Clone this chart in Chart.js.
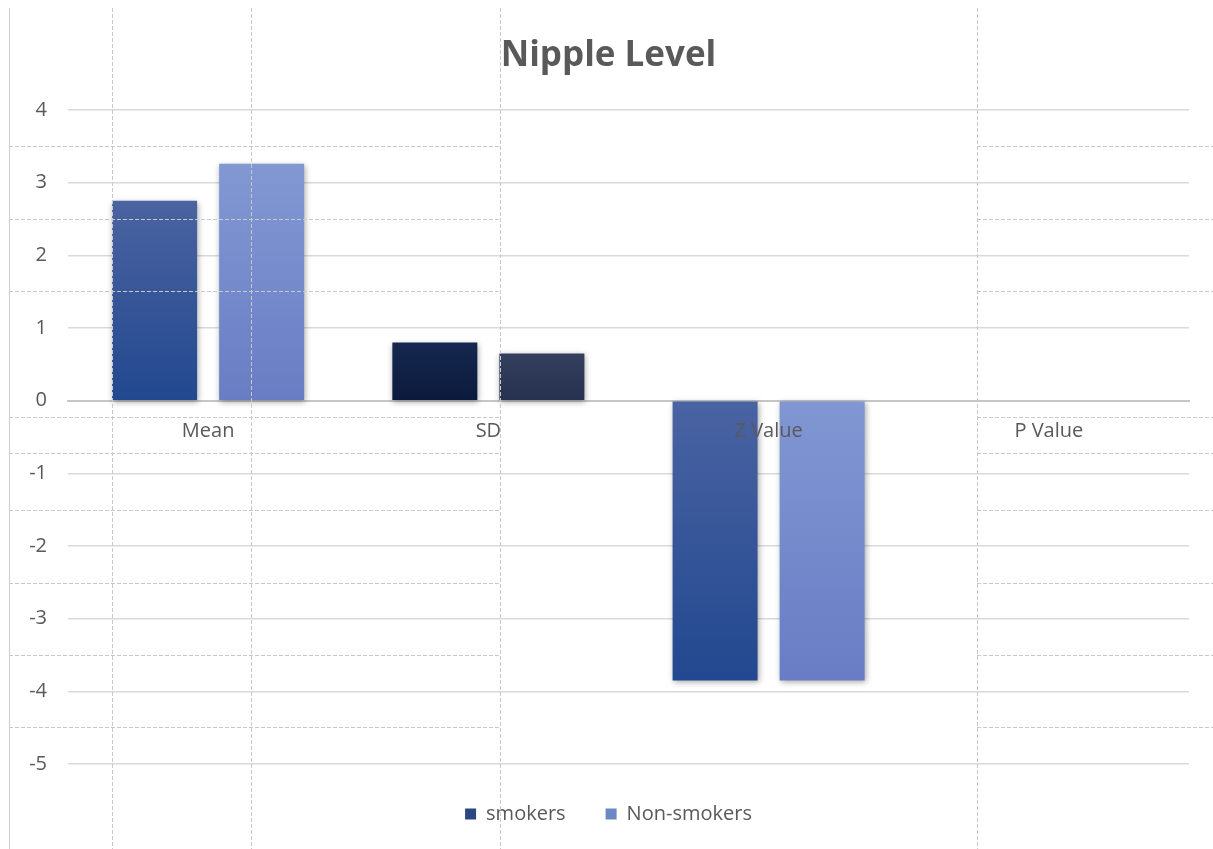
<!DOCTYPE html>
<html>
<head>
<meta charset="utf-8">
<title>Nipple Level</title>
<script src="https://cdn.jsdelivr.net/npm/chart.js@4/dist/chart.umd.min.js"></script>
<style>
  html, body { margin: 0; padding: 0; background: #fff; }
  #wrap { position: relative; width: 1213px; height: 849px; overflow: hidden; }
  #grafik { position: absolute; left: 0; top: 0; }
  #tabel { position: absolute; left: 0; top: 0; width: 1213px; height: 849px; pointer-events: none; }
  .garis-v { position: absolute; width: 1px; top: 8px; bottom: 0;
    background: repeating-linear-gradient(to bottom, #c9c9c9 0 4px, transparent 4px 6px); }
  .garis-h { position: absolute; height: 1px;
    background: repeating-linear-gradient(to right, #c9c9c9 0 4px, transparent 4px 6px); }
  .tepi { position: absolute; left: 9px; top: 8px; bottom: 0; width: 1px; background: #cfcfcf; }
</style>
</head>
<body>
<div id="wrap">
  <canvas id="grafik" width="1213" height="849"></canvas>
  <div id="tabel"><div class="tepi"></div></div>
</div>
<script>
// data grafik
const kategori = ["Mean", "SD", "Z Value", "P Value"];
const perokok = [2.75, 0.8, -3.85, 0];
const bukanPerokok = [3.26, 0.65, -3.85, 0];
const sumbuMin = -5;
const sumbuMax = 4;

// warna gradasi tiap batang: [atas, bawah]
const warnaPerokok = [
  ["#4b63a1", "#22488f"],
  ["#16284f", "#0b1a3b"],
  ["#4a63a2", "#22488f"],
  ["#4a63a2", "#22488f"],
];
const warnaBukanPerokok = [
  ["#8298d3", "#697dc4"],
  ["#34405f", "#26314e"],
  ["#8197d3", "#687dc4"],
  ["#8197d3", "#687dc4"],
];
const warnaLegenda = ["#2a4783", "#6b88c3"];

// garis tabel dokumen di atas grafik
const tabel = document.getElementById("tabel");
[112, 251, 500, 977].forEach((x) => {
  const d = document.createElement("div");
  d.className = "garis-v";
  d.style.left = x + "px";
  tabel.appendChild(d);
});
[146, 219, 291, 417, 453, 510, 583, 655, 727].forEach((y) => {
  [[9, 500], [977, 1213]].forEach(([a, b]) => {
    const d = document.createElement("div");
    d.className = "garis-h";
    d.style.top = y + "px";
    d.style.left = a + "px";
    d.style.width = b - a + "px";
    tabel.appendChild(d);
  });
});

function isiGradasi(warna) {
  return (context) => {
    const { chart } = context;
    const { ctx, chartArea, scales } = chart;
    if (!chartArea || !scales.y || context.type !== "data") return warna[0][1];
    const [atas, bawah] = warna[context.dataIndex];
    const yNilai = scales.y.getPixelForValue(context.raw);
    const yNol = scales.y.getPixelForValue(0);
    const g = ctx.createLinearGradient(0, Math.min(yNilai, yNol), 0, Math.max(yNilai, yNol) + 1);
    g.addColorStop(0, atas);
    g.addColorStop(1, bawah);
    return g;
  };
}

// bayangan lembut di sekitar batang
const bayanganBatang = {
  id: "bayanganBatang",
  beforeDatasetsDraw(chart) {
    const c = chart.ctx;
    c.save();
    c.shadowColor = "rgba(0, 0, 0, 0.35)";
    c.shadowBlur = 6;
    c.shadowOffsetX = 1;
    c.shadowOffsetY = 2;
  },
  afterDatasetsDraw(chart) {
    chart.ctx.restore();
  },
};

Chart.defaults.font.family = "'Open Sans', sans-serif";
Chart.defaults.color = "#595959";

const ctx = document.getElementById("grafik").getContext("2d");
new Chart(ctx, {
  type: "bar",
  data: {
    labels: kategori,
    datasets: [
      {
        label: "smokers",
        data: perokok,
        backgroundColor: isiGradasi(warnaPerokok),
        categoryPercentage: 0.764,
        barPercentage: 0.794,
      },
      {
        label: "Non-smokers",
        data: bukanPerokok,
        backgroundColor: isiGradasi(warnaBukanPerokok),
        categoryPercentage: 0.764,
        barPercentage: 0.794,
      },
    ],
  },
  options: {
    responsive: false,
    animation: false,
    layout: { padding: { left: 28, right: 24, top: 0, bottom: 15 } },
    plugins: {
      title: {
        display: true,
        text: "Nipple Level",
        color: "#595959",
        font: { size: 35, weight: "bold" },
        padding: { top: 35, bottom: 33 },
      },
      legend: {
        position: "bottom",
        labels: {
          font: { size: 20 },
          color: "#595959",
          boxWidth: 11,
          boxHeight: 11,
          padding: 40,
          generateLabels: (chart) =>
            Chart.defaults.plugins.legend.labels.generateLabels(chart).map((item, i) => ({
              ...item,
              fillStyle: warnaLegenda[i],
              strokeStyle: warnaLegenda[i],
              lineWidth: 0,
            })),
        },
      },
      tooltip: { enabled: false },
    },
    scales: {
      x: {
        position: { y: 0 },
        grid: { display: false, drawTicks: false },
        border: { display: true, color: "#c6c6c6", width: 2 },
        ticks: { font: { size: 20 }, color: "#595959", padding: 19, z: 1 },
      },
      y: {
        min: sumbuMin,
        max: sumbuMax,
        afterFit: (scale) => { scale.width = 40; },
        ticks: { stepSize: 1, autoSkip: false, font: { size: 20 }, color: "#595959", padding: 21 },
        grid: { color: "#d9d9d9", lineWidth: 1.5, drawTicks: false },
        border: { display: false },
      },
    },
  },
  plugins: [bayanganBatang],
});
</script>
</body>
</html>
